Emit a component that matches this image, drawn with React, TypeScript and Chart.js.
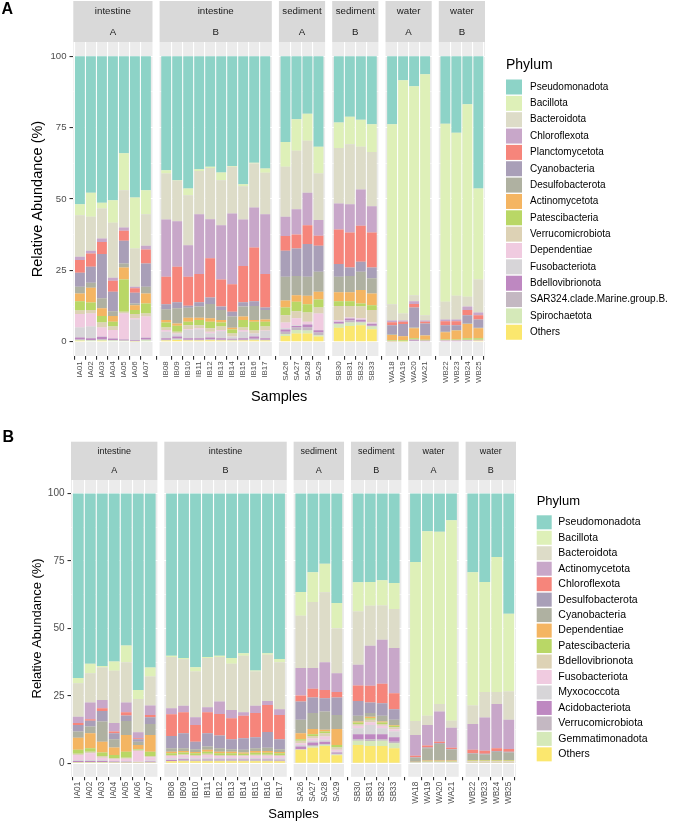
import React, { useEffect, useRef } from 'react';
import { Chart, registerables } from 'chart.js';

Chart.register(...registerables);

const FONT = '"Liberation Sans", Arial, Helvetica, sans-serif';

// ---------- categories ----------
const SAMPLES_IA = ['IA01', 'IA02', 'IA03', 'IA04', 'IA05', 'IA06', 'IA07'];
const SAMPLES_IB = ['IB08', 'IB09', 'IB10', 'IB11', 'IB12', 'IB13', 'IB14', 'IB15', 'IB16', 'IB17'];
const SAMPLES_SA = ['SA26', 'SA27', 'SA28', 'SA29'];
const SAMPLES_SB = ['SB30', 'SB31', 'SB32', 'SB33'];
const SAMPLES_WA = ['WA18', 'WA19', 'WA20', 'WA21'];
const SAMPLES_WB = ['WB22', 'WB23', 'WB24', 'WB25'];
const FACET_SAMPLES = [SAMPLES_IA, SAMPLES_IB, SAMPLES_SA, SAMPLES_SB, SAMPLES_WA, SAMPLES_WB];
const FACET_ENV = ['intestine', 'intestine', 'sediment', 'sediment', 'water', 'water'];
const FACET_GROUP = ['A', 'B', 'A', 'B', 'A', 'B'];
const Y_TICKS = [0, 12.5, 25, 37.5, 50, 62.5, 75, 87.5, 100];

const PHYLA_A = ['Pseudomonadota', 'Bacillota', 'Bacteroidota', 'Chloroflexota', 'Planctomycetota', 'Cyanobacteria',
  'Desulfobacterota', 'Actinomycetota', 'Patescibacteria', 'Verrucomicrobiota', 'Dependentiae', 'Fusobacteriota',
  'Bdellovibrionota', 'SAR324.clade.Marine.group.B.', 'Spirochaetota', 'Others'];
const PHYLA_B = ['Pseudomonadota', 'Bacillota', 'Bacteroidota', 'Actinomycetota', 'Chloroflexota', 'Desulfobacterota',
  'Cyanobacteria', 'Dependentiae', 'Patescibacteria', 'Bdellovibrionota', 'Fusobacteriota', 'Myxococcota',
  'Acidobacteriota', 'Verrucomicrobiota', 'Gemmatimonadota', 'Others'];

const COLORS = ['#8DD3C7', '#DEF0B8', '#DDDCC8', '#C8A7C9', '#F6857B', '#A99FB8', '#AFB1A1', '#F4B562',
  '#B9D766', '#DDD2B5', '#F0CBE0', '#D7D5D8', '#BE88C1', '#C4B8C2', '#D5E9B9', '#FBE76E'];

// ---------- panel A values (%), samples IA01..WB25 ----------
const A_PSEUDOMONADOTA = [51.8, 47.8, 51.3, 50.4, 34.0, 49.5, 46.9, 39.9, 43.4, 46.3, 39.6, 38.7, 40.7, 38.4, 44.8, 37.3, 39.3, 30.0, 22.1, 20.1, 31.7, 23.2, 21.2, 22.2, 23.8, 23.8, 8.4, 10.5, 6.3, 23.6, 26.8, 16.8, 46.3];
const A_BACILLOTA = [3.9, 8.4, 2.0, 7.9, 12.9, 17.8, 8.4, 1.2, 0.2, 2.4, 0.6, 0.4, 2.7, 0.3, 0.7, 0.3, 1.5, 8.7, 11.0, 9.5, 9.4, 8.9, 9.6, 9.5, 9.7, 63.1, 81.7, 73.2, 84.4, 62.4, 57.1, 67.4, 31.9];
const A_BACTEROIDOTA = [14.5, 11.9, 10.5, 19.3, 13.1, 13.4, 11.1, 16.1, 14.2, 17.5, 15.1, 18.0, 15.8, 16.4, 11.7, 15.4, 14.5, 17.5, 20.5, 18.2, 16.3, 19.5, 21.0, 15.0, 19.0, 5.7, 2.5, 2.1, 1.9, 6.2, 8.3, 3.5, 11.6];
const A_CHLOROFLEXOTA = [1.2, 1.0, 1.3, 1.0, 1.1, 0.6, 1.3, 20.0, 15.9, 11.0, 21.0, 13.7, 19.0, 24.8, 16.3, 14.0, 21.0, 6.8, 8.8, 11.4, 5.5, 9.1, 9.9, 12.7, 9.2, 0.6, 0.4, 1.0, 0.4, 0.6, 0.6, 1.2, 0.9];
const A_PLANCTOMYCETOTA = [4.4, 4.6, 4.2, 3.9, 3.5, 1.5, 4.9, 9.7, 12.5, 10.2, 9.9, 13.7, 9.5, 9.6, 12.7, 18.8, 11.7, 5.1, 4.9, 6.6, 3.5, 12.1, 12.3, 12.6, 12.3, 1.0, 0.8, 1.2, 0.6, 1.4, 1.4, 1.8, 1.5];
const A_CYANOBACTERIA = [4.9, 5.6, 15.5, 6.8, 8.0, 3.8, 8.1, 1.7, 2.1, 0.7, 1.5, 2.3, 1.2, 1.7, 1.5, 1.7, 0.9, 9.1, 9.7, 11.4, 9.1, 4.4, 3.0, 3.5, 3.8, 3.2, 4.2, 7.0, 4.1, 2.3, 1.7, 2.9, 2.9];
const A_DESULFOBACTEROTA = [2.4, 1.8, 3.5, 1.7, 1.4, 0.6, 2.4, 3.8, 5.3, 3.5, 3.9, 5.0, 3.5, 3.9, 3.5, 4.9, 3.3, 8.4, 6.7, 6.7, 7.0, 5.5, 5.7, 6.4, 5.3, 0.2, 0.1, 0.3, 0.1, 0.2, 0.2, 0.2, 0.2];
const A_ACTINOMYCETOTA = [2.7, 5.2, 2.7, 2.0, 4.2, 1.7, 3.5, 0.9, 0.8, 1.4, 0.8, 1.2, 0.9, 0.6, 1.2, 0.6, 0.8, 2.4, 2.3, 3.0, 2.7, 3.1, 3.1, 4.7, 4.1, 1.8, 1.4, 3.5, 1.5, 2.5, 3.1, 5.0, 3.5];
const A_PATESCIBACTERIA = [3.3, 2.6, 2.3, 1.7, 11.3, 1.4, 3.5, 1.7, 2.1, 1.2, 1.8, 2.3, 1.4, 1.4, 2.6, 3.1, 1.7, 2.7, 3.3, 2.9, 2.8, 1.7, 1.7, 1.1, 1.7, 0.3, 0.3, 0.4, 0.3, 0.3, 0.3, 0.5, 0.5];
const A_VERRUCOMICROBIOTA = [1.2, 1.2, 1.7, 1.2, 0.6, 1.5, 1.1, 0.9, 0.6, 1.4, 1.1, 1.2, 1.2, 1.1, 0.9, 1.0, 1.4, 2.6, 2.5, 3.2, 2.1, 4.9, 4.0, 4.1, 4.4, 0.1, 0.1, 0.1, 0.1, 0.1, 0.1, 0.2, 0.2];
const A_DEPENDENTIAE = [4.7, 4.6, 3.2, 2.9, 9.0, 0.4, 7.3, 0.6, 0.3, 0.3, 0.4, 0.6, 0.4, 0.1, 0.6, 0.1, 0.1, 2.0, 2.4, 0.9, 5.8, 0.4, 0.3, 0.4, 0.3, 0, 0, 0, 0, 0.1, 0.1, 0.1, 0.1];
const A_FUSOBACTERIOTA = [3.5, 4.1, 0.1, 0.1, 0.1, 7.2, 0.1, 2.3, 0.8, 2.9, 3.1, 1.4, 2.5, 0.7, 2.3, 1.0, 2.6, 0.4, 0.3, 0.1, 0.1, 0.2, 0.1, 0.1, 0.1, 0, 0, 0, 0, 0, 0, 0, 0];
const A_BDELLOVIBRIONOTA = [0.7, 0.6, 0.8, 0.5, 0.4, 0.3, 0.6, 0.5, 0.7, 0.5, 0.5, 0.6, 0.5, 0.3, 0.5, 0.8, 0.5, 0.8, 0.5, 1.0, 0.8, 0.6, 0.7, 0.7, 0.7, 0.1, 0, 0.4, 0.1, 0.1, 0.1, 0.1, 0.1];
const A_SAR324 = [0.2, 0.2, 0.3, 0.2, 0.1, 0.1, 0.3, 0.2, 0.3, 0.2, 0.2, 0.3, 0.2, 0.2, 0.2, 0.3, 0.2, 0.8, 0.9, 1.1, 0.9, 0.3, 0.7, 0.3, 0.3, 0, 0, 0.1, 0, 0, 0, 0.1, 0];
const A_SPIROCHAETOTA = [0.3, 0.2, 0.3, 0.2, 0.1, 0.1, 0.3, 0.1, 0.2, 0.1, 0.1, 0.1, 0.1, 0.2, 0.1, 0.2, 0.1, 0.7, 1.2, 1.0, 0.5, 1.2, 1.2, 0.9, 0.9, 0, 0, 0, 0, 0, 0, 0, 0];
const A_OTHERS = [0.3, 0.2, 0.3, 0.2, 0.2, 0.1, 0.2, 0.4, 0.6, 0.4, 0.4, 0.5, 0.4, 0.3, 0.4, 0.5, 0.4, 2.0, 2.9, 2.9, 1.8, 4.9, 5.5, 5.8, 4.4, 0.1, 0.1, 0.2, 0.2, 0.2, 0.2, 0.2, 0.3];

// ---------- panel B values (%) ----------
const B_PSEUDOMONADOTA = [68.4, 63.1, 63.9, 62.3, 56.3, 72.8, 64.5, 60.1, 61.0, 64.4, 60.6, 60.1, 61.0, 59.2, 65.6, 59.2, 61.3, 36.5, 29.2, 26.0, 40.6, 32.9, 32.8, 32.2, 33.2, 25.4, 14.0, 14.2, 9.9, 29.2, 32.8, 23.5, 44.6];
const B_BACILLOTA = [1.9, 3.5, 0.6, 3.4, 6.2, 3.4, 3.3, 0.5, 0.4, 1.6, 0.4, 0.5, 2.1, 0.9, 0.4, 0.6, 1.2, 8.8, 11.0, 10.6, 9.3, 10.8, 8.8, 9.3, 9.6, 58.9, 68.4, 63.8, 74.3, 49.4, 40.8, 50.1, 28.8];
const B_BACTEROIDOTA = [12.4, 10.9, 12.0, 19.4, 15.0, 12.3, 10.8, 19.0, 17.3, 16.9, 18.2, 16.5, 17.1, 21.0, 12.7, 17.1, 17.5, 19.4, 24.5, 25.9, 16.7, 19.8, 14.8, 12.7, 14.5, 5.2, 3.4, 2.8, 2.6, 6.8, 9.4, 4.4, 10.5];
const B_ACTINOMYCETOTA = [2.4, 6.2, 3.1, 3.1, 3.6, 2.2, 3.5, 2.2, 2.4, 2.9, 1.9, 4.6, 3.1, 1.3, 2.7, 1.5, 2.1, 10.2, 7.7, 10.3, 7.0, 7.7, 14.9, 16.3, 16.7, 7.7, 7.6, 11.2, 7.4, 9.6, 12.3, 16.4, 10.8];
const B_CHLOROFLEXOTA = [0.7, 0.5, 1.0, 0.7, 1.2, 0.4, 0.8, 8.1, 7.8, 6.2, 7.8, 8.0, 7.8, 8.3, 8.9, 10.0, 9.0, 2.2, 3.2, 3.1, 2.0, 5.7, 6.2, 7.2, 6.0, 0.6, 0.7, 0.6, 0.5, 1.3, 1.2, 1.0, 1.0];
const B_DESULFOBACTEROTA = [2.4, 2.2, 3.9, 2.2, 2.0, 0.9, 2.5, 4.5, 5.5, 2.8, 4.9, 4.7, 3.7, 4.3, 4.1, 5.8, 3.7, 6.8, 5.8, 4.9, 6.5, 5.5, 3.9, 4.7, 3.9, 0.1, 0.3, 0.2, 0.2, 0.2, 0.2, 0.3, 0.3];
const B_CYANOBACTERIA = [2.3, 2.5, 7.5, 3.0, 5.2, 1.2, 4.1, 1.3, 1.0, 1.0, 1.2, 1.3, 0.9, 1.0, 1.0, 1.2, 1.0, 5.0, 5.9, 6.8, 5.2, 2.1, 1.3, 2.1, 1.9, 1.5, 4.6, 6.2, 4.1, 2.3, 2.1, 3.1, 2.8];
const B_DEPENDENTIAE = [4.5, 5.5, 4.0, 2.8, 6.2, 1.5, 6.2, 0.6, 0.6, 0.5, 0.7, 0.6, 0.6, 0.5, 0.7, 0.7, 0.5, 2.2, 1.9, 0.6, 5.9, 0.4, 0.6, 0.4, 0.3, 0.1, 0.2, 0.2, 0.2, 0.2, 0.2, 0.2, 0.2];
const B_PATESCIBACTERIA = [1.5, 1.3, 1.3, 1.2, 2.2, 0.3, 1.6, 0.6, 0.7, 0.6, 0.8, 0.6, 0.6, 0.5, 0.7, 0.7, 0.6, 0.5, 0.7, 0.7, 0.9, 0.5, 0.6, 0.5, 0.5, 0.1, 0.2, 0.2, 0.2, 0.2, 0.2, 0.2, 0.2];
const B_BDELLOVIBRIONOTA = [0.4, 0.6, 0.6, 0.4, 0.4, 0.4, 0.5, 0.4, 0.3, 0.4, 0.4, 0.4, 0.4, 0.4, 0.4, 0.4, 0.4, 1.0, 0.8, 1.2, 0.9, 0.7, 0.9, 0.7, 0.8, 0.1, 0.1, 0.1, 0.1, 0.2, 0.2, 0.2, 0.2];
const B_FUSOBACTERIOTA = [1.9, 2.5, 0.9, 0.6, 0.8, 4.0, 1.2, 0.8, 0.9, 0.8, 1.0, 0.7, 0.7, 0.6, 0.8, 0.8, 0.8, 0.6, 0.9, 1.2, 0.7, 0.9, 1.0, 0.9, 0.8, 0, 0.1, 0.1, 0.1, 0.1, 0.1, 0.1, 0.1];
const B_MYXOCOCCOTA = [0.3, 0.3, 0.3, 0.2, 0.3, 0.2, 0.3, 0.7, 0.6, 0.6, 0.7, 0.6, 0.6, 0.6, 0.6, 0.6, 0.6, 0.6, 0.7, 0.7, 0.3, 2.2, 3.4, 2.2, 2.1, 0.1, 0.1, 0.1, 0.1, 0.1, 0.1, 0.1, 0.1];
const B_ACIDOBACTERIOTA = [0.4, 0.4, 0.4, 0.3, 0.3, 0.1, 0.3, 0.3, 0.4, 0.3, 0.3, 0.3, 0.3, 0.3, 0.3, 0.3, 0.3, 1.0, 0.9, 0.8, 0.5, 1.9, 1.9, 1.9, 1.7, 0, 0, 0, 0, 0.1, 0.1, 0.1, 0.1];
const B_VERRUCOMICROBIOTA = [0.2, 0.2, 0.2, 0.2, 0.1, 0.1, 0.2, 0.1, 0.2, 0.1, 0.2, 0.2, 0.2, 0.2, 0.2, 0.2, 0.2, 0.1, 0.6, 0.3, 0.2, 0.5, 0.6, 0.5, 0.6, 0, 0, 0, 0, 0.1, 0.1, 0.1, 0.1];
const B_GEMMATIMONADOTA = [0.2, 0.2, 0.2, 0.1, 0.1, 0.1, 0.1, 0, 0.1, 0.1, 0.1, 0.1, 0.1, 0.1, 0.1, 0.1, 0, 0.1, 0.4, 0.5, 0.3, 1.6, 1.9, 2.0, 1.8, 0, 0.1, 0.1, 0.1, 0.1, 0.1, 0.1, 0.1];
const B_OTHERS = [0.1, 0.1, 0.1, 0.1, 0.1, 0.1, 0.1, 0.8, 0.8, 0.8, 0.8, 0.8, 0.8, 0.8, 0.8, 0.8, 0.8, 5.0, 5.8, 6.4, 3.0, 6.8, 6.4, 6.4, 5.6, 0.2, 0.2, 0.2, 0.2, 0.1, 0.1, 0.1, 0.1];

const VALUES_A = [A_PSEUDOMONADOTA, A_BACILLOTA, A_BACTEROIDOTA, A_CHLOROFLEXOTA, A_PLANCTOMYCETOTA, A_CYANOBACTERIA,
  A_DESULFOBACTEROTA, A_ACTINOMYCETOTA, A_PATESCIBACTERIA, A_VERRUCOMICROBIOTA, A_DEPENDENTIAE, A_FUSOBACTERIOTA,
  A_BDELLOVIBRIONOTA, A_SAR324, A_SPIROCHAETOTA, A_OTHERS];
const VALUES_B = [B_PSEUDOMONADOTA, B_BACILLOTA, B_BACTEROIDOTA, B_ACTINOMYCETOTA, B_CHLOROFLEXOTA, B_DESULFOBACTEROTA,
  B_CYANOBACTERIA, B_DEPENDENTIAE, B_PATESCIBACTERIA, B_BDELLOVIBRIONOTA, B_FUSOBACTERIOTA, B_MYXOCOCCOTA,
  B_ACIDOBACTERIOTA, B_VERRUCOMICROBIOTA, B_GEMMATIMONADOTA, B_OTHERS];

// ---------- layout / style ----------
type PanelCfg = {
  tag: string; top: number; height: number; phyla: string[]; values: number[][];
  yAxisW: number; padRight: number; padTop: number; xAxisH: number; gapU: number;
  stripTop: number; stripRow1: number; stripRow2: number; stripSize: number;
  tagX: number; tagY: number; tagSize: number;
  yTickSize: number; xTickSize: number; titleSize: number; yTitlePad: number; xTitlePad: number;
  tickLen: number; xTickPad: number; yTickPad: number;
  legX: number; legTitleY: number; legTitleSize: number; legY0: number; legStep: number;
  keyW: number; keyH: number; legTextX: number; legTextSize: number;
};

const PANEL_A: PanelCfg = {
  tag: 'A', top: 0, height: 410, phyla: PHYLA_A, values: VALUES_A,
  yAxisW: 73.3, padRight: 200, padTop: 42, xAxisH: 54, gapU: 0.645,
  stripTop: 1, stripRow1: 11.7, stripRow2: 32, stripSize: 9.7,
  tagX: 1.5, tagY: 13.5, tagSize: 16,
  yTickSize: 9.6, xTickSize: 8, titleSize: 14.5, yTitlePad: 28.8, xTitlePad: 4.3,
  tickLen: 3.8, xTickPad: 1.5, yTickPad: 3,
  legX: 506, legTitleY: 65, legTitleSize: 14, legY0: 87, legStep: 16.35,
  keyW: 16, keyH: 15, legTextX: 530, legTextSize: 10,
};

const PANEL_B: PanelCfg = {
  tag: 'B', top: 400, height: 422, phyla: PHYLA_B, values: VALUES_B,
  yAxisW: 71, padRight: 169, padTop: 80, xAxisH: 45.2, gapU: 0.577,
  stripTop: 41.7, stripRow1: 51.7, stripRow2: 70.7, stripSize: 9,
  tagX: 2.5, tagY: 41.7, tagSize: 16,
  yTickSize: 10, xTickSize: 8.2, titleSize: 13, yTitlePad: 29.7, xTitlePad: 0,
  tickLen: 3.5, xTickPad: 1.5, yTickPad: 3,
  legX: 536.7, legTitleY: 101.7, legTitleSize: 13, legY0: 122.3, legStep: 15.47,
  keyW: 15, keyH: 14, legTextX: 558.3, legTextSize: 10.5,
};

function facetLayout(gapU: number) {
  const starts: number[] = [];
  const ends: number[] = [];
  const pos: number[] = [];
  let s = 0;
  FACET_SAMPLES.forEach((list) => {
    starts.push(s);
    list.forEach((_, i) => pos.push(s + 0.6 + i));
    const e = s + list.length + 0.2;
    ends.push(e);
    s = e + gapU;
  });
  return { starts, ends, pos, total: s - gapU };
}

function PanelChart({ cfg }: { cfg: PanelCfg }) {
  const ref = useRef<HTMLCanvasElement | null>(null);

  useEffect(() => {
    if (!ref.current) return;
    const { starts, ends, pos, total } = facetLayout(cfg.gapU);
    const samples = FACET_SAMPLES.flat();

    const datasets = cfg.phyla
      .map((name, k) => ({
        label: name,
        data: pos.map((x, i) => ({ x, y: cfg.values[k][i] })),
        backgroundColor: COLORS[k],
        borderWidth: 0,
        barPercentage: 0.9,
        categoryPercentage: 1.0,
      }))
      .reverse();

    const facetPlugin = {
      id: 'facets' + cfg.tag,
      beforeDraw(chart: any) {
        const { ctx, chartArea } = chart;
        const xs = chart.scales.x;
        ctx.save();
        starts.forEach((s, f) => {
          const x0 = xs.getPixelForValue(s);
          const x1 = xs.getPixelForValue(ends[f]);
          ctx.fillStyle = '#EBEBEB';
          ctx.fillRect(x0, chartArea.top, x1 - x0, chartArea.bottom - chartArea.top);
          ctx.fillStyle = '#D9D9D9';
          ctx.fillRect(x0, cfg.stripTop, x1 - x0, chartArea.top - cfg.stripTop);
          ctx.fillStyle = '#1A1A1A';
          ctx.font = `${cfg.stripSize}px ${FONT}`;
          ctx.textAlign = 'center';
          ctx.textBaseline = 'middle';
          ctx.fillText(FACET_ENV[f], (x0 + x1) / 2, cfg.stripRow1);
          ctx.fillText(FACET_GROUP[f], (x0 + x1) / 2, cfg.stripRow2);
        });
        ctx.fillStyle = '#000000';
        ctx.font = `bold ${cfg.tagSize}px ${FONT}`;
        ctx.textAlign = 'left';
        ctx.textBaseline = 'alphabetic';
        ctx.fillText(cfg.tag, cfg.tagX, cfg.tagY);
        ctx.restore();
      },
      afterDraw(chart: any) {
        const { ctx } = chart;
        ctx.save();
        ctx.fillStyle = '#000000';
        ctx.textAlign = 'left';
        ctx.textBaseline = 'middle';
        ctx.font = `${cfg.legTitleSize}px ${FONT}`;
        ctx.fillText('Phylum', cfg.legX, cfg.legTitleY);
        cfg.phyla.forEach((name, k) => {
          const cy = cfg.legY0 + k * cfg.legStep;
          ctx.fillStyle = COLORS[k];
          ctx.fillRect(cfg.legX, cy - cfg.keyH / 2, cfg.keyW, cfg.keyH);
          ctx.fillStyle = '#000000';
          ctx.font = `${cfg.legTextSize}px ${FONT}`;
          ctx.fillText(name, cfg.legTextX, cy);
        });
        ctx.restore();
      },
    };

    const chart = new Chart(ref.current, {
      type: 'bar',
      data: { datasets: datasets as any },
      plugins: [facetPlugin],
      options: {
        animation: false,
        responsive: false,
        devicePixelRatio: window.devicePixelRatio || 1,
        layout: { padding: { left: 0, right: cfg.padRight, top: cfg.padTop, bottom: 0 } },
        plugins: { legend: { display: false }, tooltip: { enabled: false } },
        scales: {
          x: {
            type: 'linear',
            stacked: true,
            min: 0,
            max: total,
            offset: false,
            afterBuildTicks: (scale: any) => {
              scale.ticks = pos.map((v) => ({ value: v }));
            },
            afterFit: (scale: any) => {
              scale.height = cfg.xAxisH;
            },
            ticks: {
              autoSkip: false,
              minRotation: 90,
              maxRotation: 90,
              padding: cfg.xTickPad,
              color: '#4D4D4D',
              font: { size: cfg.xTickSize, family: FONT },
              callback: (_v: any, i: number) => samples[i],
            },
            grid: {
              color: '#FFFFFF',
              lineWidth: 1.1,
              tickColor: '#333333',
              tickLength: cfg.tickLen,
              drawOnChartArea: true,
              drawTicks: true,
            },
            border: { display: false },
            title: {
              display: true,
              text: 'Samples',
              color: '#000000',
              font: { size: cfg.titleSize, family: FONT },
              padding: { top: 0, bottom: cfg.xTitlePad },
            },
          },
          y: {
            type: 'linear',
            stacked: true,
            min: -5,
            max: 105,
            afterBuildTicks: (scale: any) => {
              scale.ticks = Y_TICKS.map((v) => ({ value: v }));
            },
            afterFit: (scale: any) => {
              scale.width = cfg.yAxisW;
            },
            ticks: {
              padding: cfg.yTickPad,
              color: '#4D4D4D',
              font: { size: cfg.yTickSize, family: FONT },
              callback: (v: any) => (Number(v) % 25 === 0 ? String(v) : ''),
            },
            grid: {
              color: '#FFFFFF',
              lineWidth: (c: any) => (c.tick && c.tick.value % 25 === 0 ? 1.1 : 0.55),
              tickColor: (c: any) => (c.tick && c.tick.value % 25 === 0 ? '#333333' : 'rgba(0,0,0,0)'),
              tickLength: cfg.tickLen,
              drawOnChartArea: true,
              drawTicks: true,
            },
            border: { display: false },
            title: {
              display: true,
              text: 'Relative Abundance (%)',
              color: '#000000',
              font: { size: cfg.titleSize, family: FONT },
              padding: { top: cfg.yTitlePad, bottom: 0 },
            },
          },
        },
      } as any,
    });
    return () => chart.destroy();
  }, [cfg]);

  return (
    <canvas
      ref={ref}
      width={685}
      height={cfg.height}
      style={{ position: 'absolute', left: 0, top: cfg.top, width: 685, height: cfg.height }}
    />
  );
}

export default function App() {
  return (
    <div style={{ position: 'fixed', left: 0, top: 0, width: 685, height: 822, background: '#FFFFFF', overflow: 'hidden' }}>
      <PanelChart cfg={PANEL_A} />
      <PanelChart cfg={PANEL_B} />
    </div>
  );
}
